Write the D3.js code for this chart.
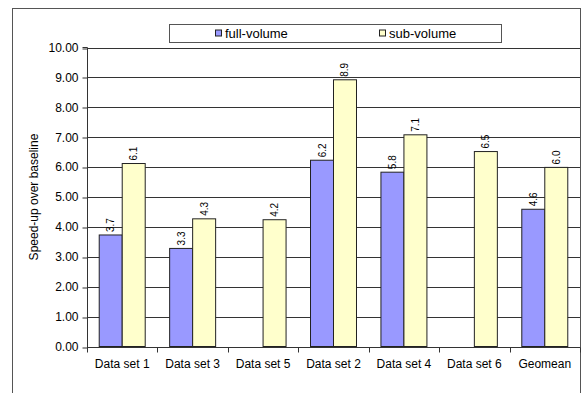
<!DOCTYPE html>
<html>
<head>
<meta charset="utf-8">
<script src="https://cdn.jsdelivr.net/npm/d3@7"></script>
<style>
  html, body { margin: 0; padding: 0; background: #fff; }
  svg { display: block; font-family: "Liberation Sans", Arial, sans-serif; }
</style>
</head>
<body>
<svg id="chart" width="583" height="393"></svg>
<script>
// Speed-up per data set, full-volume vs sub-volume
const categories = ["Data set 1", "Data set 3", "Data set 5", "Data set 2", "Data set 4", "Data set 6", "Geomean"];
const fullVolume = [3.73, 3.28, null, 6.23, 5.83, null, 4.59];
const subVolume  = [6.12, 4.27, 4.24, 8.92, 7.08, 6.52, 5.99];
const seriesNames = ["full-volume", "sub-volume"];
const seriesColors = ["#9999FF", "#FFFFCC"];
const yTicks = [0, 1, 2, 3, 4, 5, 6, 7, 8, 9, 10];

const svg = d3.select("#chart");
const W = 583, H = 393;
const plot = { left: 87, right: 580, top: 47.5, bottom: 346.5 };

// Outer chart frame
svg.append("rect")
  .attr("x", 12.5).attr("y", 8.5)
  .attr("width", 568).attr("height", 400)
  .attr("fill", "#fff").attr("stroke", "#555").attr("stroke-width", 1);

const x0 = d3.scaleBand().domain(categories).range([plot.left, plot.right]).paddingInner(0.347).paddingOuter(0.1735);
const x1 = d3.scaleBand().domain(seriesNames).range([0, x0.bandwidth()]);
const y = d3.scaleLinear().domain([0, 10]).range([plot.bottom, plot.top]);

// Horizontal gridlines
svg.append("g")
  .selectAll("line")
  .data(yTicks.filter(d => d > 0))
  .join("line")
  .attr("x1", plot.left).attr("x2", plot.right)
  .attr("y1", d => Math.round(y(d)) + 0.5).attr("y2", d => Math.round(y(d)) + 0.5)
  .attr("stroke", "#333").attr("stroke-width", 1);

// Y axis
const yAxis = svg.append("g")
  .attr("transform", `translate(${plot.left + 0.5},0)`)
  .call(d3.axisLeft(y).tickValues(yTicks).tickFormat(d3.format(".2f")).tickSize(5).tickPadding(4));
yAxis.selectAll("text").attr("font-size", 12).attr("fill", "#000").attr("font-family", "Liberation Sans, Arial, sans-serif");
yAxis.selectAll(".tick line").attr("stroke", "#333").attr("transform", d => `translate(0,${Math.round(y(d)) + 0.5 - y(d)})`);
yAxis.select(".domain").attr("stroke", "#333").attr("d", `M-5,${plot.top}H0V${plot.bottom + 0.5}`);

// X axis with ticks at category boundaries
const xAxisG = svg.append("g").attr("transform", `translate(0,${Math.round(plot.bottom) + 0.5})`);
xAxisG.append("line")
  .attr("x1", plot.left).attr("x2", plot.right).attr("y1", 0).attr("y2", 0)
  .attr("stroke", "#333");
const step = x0.step();
const boundaries = d3.range(categories.length + 1).map(i => plot.left + i * step);
xAxisG.selectAll(".xtick")
  .data(boundaries)
  .join("line")
  .attr("class", "xtick")
  .attr("x1", d => Math.round(d) + 0.5).attr("x2", d => Math.round(d) + 0.5)
  .attr("y1", 0).attr("y2", 5)
  .attr("stroke", "#333");
xAxisG.selectAll(".xlabel")
  .data(categories)
  .join("text")
  .attr("class", "xlabel")
  .attr("x", d => x0(d) + x0.bandwidth() / 2)
  .attr("y", 20)
  .attr("text-anchor", "middle")
  .attr("font-size", 12)
  .text(d => d);

// Bars
const rows = categories.map((c, i) => ({ cat: c, values: [fullVolume[i], subVolume[i]] }));
const groups = svg.append("g").selectAll("g")
  .data(rows)
  .join("g")
  .attr("transform", d => `translate(${x0(d.cat)},0)`);

const cells = groups.selectAll("g")
  .data(d => d.values.map((v, k) => ({ v, k })).filter(e => e.v !== null))
  .join("g");

cells.append("rect")
  .attr("x", e => x1(seriesNames[e.k]))
  .attr("y", e => y(e.v))
  .attr("width", x1.bandwidth())
  .attr("height", e => y(0) - y(e.v))
  .attr("fill", e => seriesColors[e.k])
  .attr("stroke", "#222")
  .attr("stroke-width", 1);

// Value labels, rotated above each bar
cells.append("text")
  .attr("transform", e => `translate(${x1(seriesNames[e.k]) + x1.bandwidth() / 2},${y(e.v) - 3}) rotate(-90)`)
  .attr("dy", "0.35em")
  .attr("font-size", 10)
  .attr("text-anchor", "start")
  .text(e => e.v.toFixed(1));

// Y axis title
svg.append("text")
  .attr("transform", `translate(38,${(plot.top + plot.bottom) / 2}) rotate(-90)`)
  .attr("text-anchor", "middle")
  .attr("font-size", 12)
  .text("Speed-up over baseline");

// Legend
const legend = svg.append("g");
legend.append("rect")
  .attr("x", 169.5).attr("y", 24.5).attr("width", 332).attr("height", 18)
  .attr("fill", "#fff").attr("stroke", "#555");
const legendX = [215, 379];
const items = legend.selectAll("g.item")
  .data(seriesNames)
  .join("g").attr("class", "item")
  .attr("transform", (d, i) => `translate(${legendX[i]},33.5)`);
items.append("rect")
  .attr("x", 0.5).attr("y", -3.5).attr("width", 6).attr("height", 6)
  .attr("fill", (d, i) => seriesColors[i]).attr("stroke", "#222");
items.append("text")
  .attr("x", 10).attr("y", 0).attr("dy", "0.35em")
  .attr("font-size", 13)
  .text(d => d);
</script>
</body>
</html>
